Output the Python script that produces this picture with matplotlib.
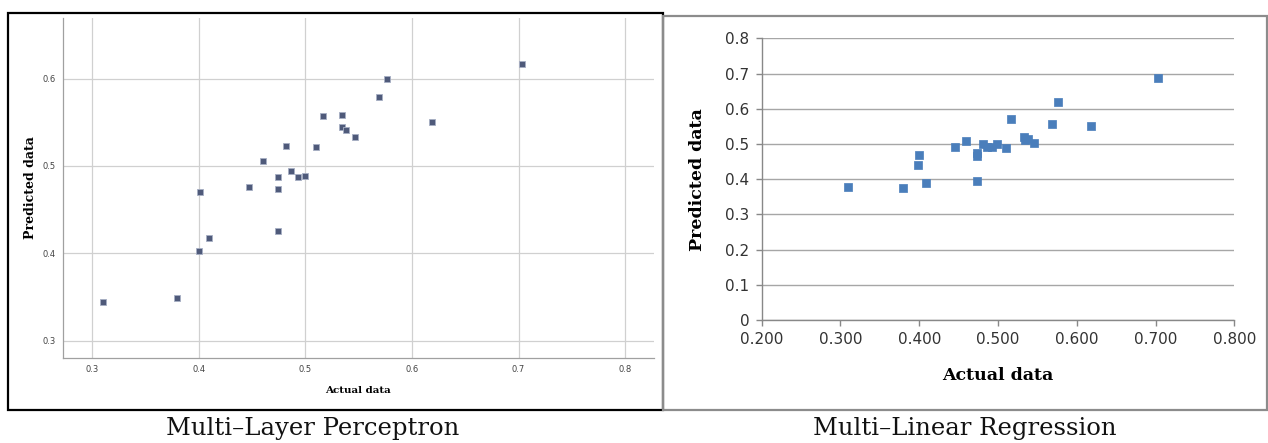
import matplotlib
matplotlib.use("Agg")
import matplotlib.pyplot as plt
from matplotlib.patches import Rectangle
from matplotlib.ticker import FixedLocator, FuncFormatter

# Data
actual = [0.310, 0.380, 0.401, 0.400, 0.410, 0.447, 0.460, 0.474, 0.474, 0.474,
          0.482, 0.487, 0.493, 0.500, 0.510, 0.517, 0.534, 0.534, 0.538, 0.547,
          0.569, 0.577, 0.619, 0.703]
mlp_pred = [0.344, 0.349, 0.470, 0.403, 0.418, 0.476, 0.506, 0.487, 0.474, 0.426,
            0.523, 0.494, 0.487, 0.489, 0.522, 0.557, 0.558, 0.545, 0.541, 0.533,
            0.579, 0.599, 0.550, 0.617]
actual_mlr = [0.309, 0.379, 0.400, 0.399, 0.409, 0.446, 0.459, 0.473, 0.473, 0.473,
              0.481, 0.486, 0.493, 0.499, 0.510, 0.517, 0.533, 0.534, 0.538, 0.546,
              0.568, 0.576, 0.618, 0.703]
mlr_pred = [0.377, 0.375, 0.468, 0.440, 0.388, 0.491, 0.508, 0.473, 0.466, 0.394,
            0.500, 0.490, 0.490, 0.500, 0.489, 0.571, 0.521, 0.511, 0.513, 0.502,
            0.558, 0.618, 0.552, 0.687]
mlp_xticks = [0.3, 0.4, 0.5, 0.6, 0.7, 0.8]
mlp_yticks = [0.3, 0.4, 0.5, 0.6]
mlr_xticks = [0.2, 0.3, 0.4, 0.5, 0.6, 0.7, 0.8]
mlr_yticks = [0.0, 0.1, 0.2, 0.3, 0.4, 0.5, 0.6, 0.7, 0.8]
captions = ["Multi\u2013Layer Perceptron", "Multi\u2013Linear Regression"]

W, H = 1268, 443
fig = plt.figure(figsize=(W / 100, H / 100), dpi=100)

def px_axes(l, t, r, b):
    return fig.add_axes([l / W, (H - b) / H, (r - l) / W, (b - t) / H])

# Frames
fig.patches.append(Rectangle((8 / W, (H - 410) / H), (663 - 8) / W, (410 - 13) / H,
                             transform=fig.transFigure, fill=False, edgecolor="black",
                             linewidth=1.6, zorder=0))
fig.patches.append(Rectangle((663 / W, (H - 410) / H), (1267 - 663) / W, (410 - 16) / H,
                             transform=fig.transFigure, fill=False, edgecolor="#8c8c8c",
                             linewidth=1.6, zorder=0))

# Left: MLP
ax1 = px_axes(62.7, 18.3, 654, 357.7)
ax1.scatter(actual, mlp_pred, marker="s", s=16, color="#4f5a7a",
            edgecolors="#a7afc4", linewidths=0.6, zorder=3)
ax1.set_xlim(0.2725, 0.827)
ax1.set_ylim(0.2805, 0.669)
ax1.xaxis.set_major_locator(FixedLocator(mlp_xticks))
ax1.yaxis.set_major_locator(FixedLocator(mlp_yticks))
ax1.xaxis.set_major_formatter(FuncFormatter(lambda v, p: f"{v:g}"))
ax1.yaxis.set_major_formatter(FuncFormatter(lambda v, p: f"{v:g}"))
ax1.grid(True, color="#d0d0d0", linewidth=0.9)
ax1.set_axisbelow(True)
for s in ["top", "right"]:
    ax1.spines[s].set_visible(False)
for s in ["left", "bottom"]:
    ax1.spines[s].set_color("#a0a0a0")
    ax1.spines[s].set_linewidth(0.9)
ax1.tick_params(length=0, labelsize=6, colors="#444444", pad=5)
ax1.set_xlabel("Actual data", family="DejaVu Serif", fontweight="bold", fontsize=7.5,
               labelpad=9)
ax1.set_ylabel("Predicted data", family="DejaVu Serif", fontweight="bold", fontsize=9,
               labelpad=4)

# Right: MLR
ax2 = px_axes(761.7, 38.3, 1234.3, 320)
ax2.scatter(actual_mlr, mlr_pred, marker="s", s=40, color="#4a7ebb",
            edgecolors="#4a7ebb", linewidths=0.5, zorder=3)
ax2.set_xlim(0.2, 0.8)
ax2.set_ylim(0.0, 0.8)
ax2.xaxis.set_major_locator(FixedLocator(mlr_xticks))
ax2.yaxis.set_major_locator(FixedLocator(mlr_yticks))
ax2.xaxis.set_major_formatter(FuncFormatter(lambda v, p: f"{v:.3f}"))
ax2.yaxis.set_major_formatter(FuncFormatter(lambda v, p: "0" if v == 0 else f"{v:.1f}"))
ax2.yaxis.grid(True, color="#a6a6a6", linewidth=1.0)
ax2.set_axisbelow(True)
for s in ["top", "right"]:
    ax2.spines[s].set_visible(False)
for s in ["left", "bottom"]:
    ax2.spines[s].set_color("#888888")
    ax2.spines[s].set_linewidth(1.0)
ax2.tick_params(direction="out", length=4, width=1, color="#888888",
                labelsize=11, labelcolor="#333333", pad=5)
ax2.set_xlabel("Actual data", family="DejaVu Serif", fontweight="bold", fontsize=12.5,
               labelpad=14)
ax2.set_ylabel("Predicted data", family="DejaVu Serif", fontweight="bold", fontsize=12.5,
               labelpad=14)

# Captions
fig.text(313 / W, 1 - 435 / H, captions[0], ha="center", va="baseline",
         family="DejaVu Serif", fontsize=17.5, color="#111111")
fig.text(965 / W, 1 - 435 / H, captions[1], ha="center", va="baseline",
         family="DejaVu Serif", fontsize=17.5, color="#111111")

fig.savefig("out.png", dpi=100)
